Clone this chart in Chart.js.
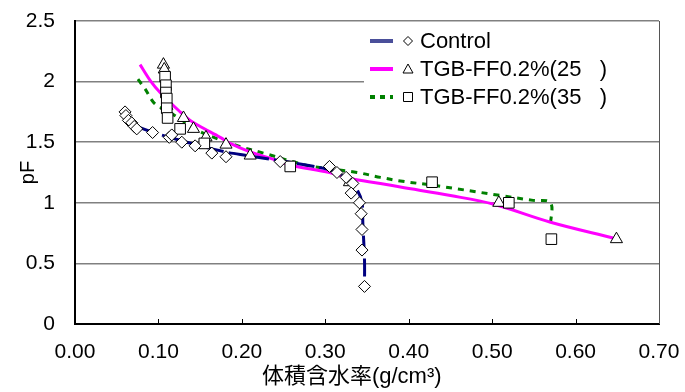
<!DOCTYPE html>
<html>
<head>
<meta charset="utf-8">
<script src="https://cdn.jsdelivr.net/npm/chart.js@4.4.1/dist/chart.umd.min.js"></script>
<style>
  html, body { margin: 0; padding: 0; background: #fff; }
  canvas { display: block; }
</style>
</head>
<body>
<canvas id="myChart" width="685" height="392" style="width:685px;height:392px"></canvas>
<script>
// measured points (x = volumetric water content, y = pF)
const controlX = [0.060, 0.061, 0.064, 0.068, 0.071, 0.074, 0.093, 0.113, 0.116, 0.128, 0.144, 0.164, 0.181, 0.246, 0.305, 0.314, 0.325, 0.333, 0.331, 0.341, 0.343, 0.344, 0.344, 0.347];
const controlY = [1.75, 1.72, 1.68, 1.66, 1.63, 1.61, 1.58, 1.54, 1.56, 1.50, 1.47, 1.41, 1.38, 1.34, 1.30, 1.25, 1.21, 1.16, 1.08, 1.00, 0.91, 0.78, 0.61, 0.31];

const tgb25X = [0.106, 0.107, 0.110, 0.130, 0.142, 0.157, 0.181, 0.210, 0.329, 0.508, 0.649];
const tgb25Y = [2.14, 2.10, 1.80, 1.70, 1.61, 1.54, 1.48, 1.39, 1.17, 1.00, 0.70];

const tgb35X = [0.108, 0.109, 0.109, 0.110, 0.110, 0.111, 0.126, 0.155, 0.258, 0.428, 0.520, 0.571];
const tgb35Y = [2.04, 1.97, 1.91, 1.86, 1.78, 1.70, 1.61, 1.49, 1.30, 1.17, 1.00, 0.70];

// fitted curves
const controlFitX = [0.078, 0.094, 0.134, 0.180, 0.206, 0.243, 0.261, 0.306, 0.326, 0.338, 0.344, 0.345, 0.347, 0.347];
const controlFitY = [1.62, 1.58, 1.50, 1.42, 1.39, 1.35, 1.33, 1.27, 1.20, 1.11, 1.00, 0.83, 0.53, 0.30];

const tgb25FitX = [0.078, 0.090, 0.102, 0.126, 0.138, 0.150, 0.174, 0.186, 0.210, 0.242, 0.258, 0.305, 0.330, 0.366, 0.390, 0.450, 0.501, 0.570, 0.645];
const tgb25FitY = [2.14, 2.01, 1.91, 1.75, 1.68, 1.63, 1.54, 1.49, 1.42, 1.35, 1.31, 1.25, 1.20, 1.16, 1.13, 1.06, 0.99, 0.84, 0.71];

const tgb35FitX = [0.0755, 0.084, 0.094, 0.104, 0.122, 0.146, 0.174, 0.200, 0.226, 0.266, 0.285, 0.338, 0.366, 0.390, 0.434, 0.510, 0.549, 0.570, 0.570];
const tgb35FitY = [2.02, 1.94, 1.83, 1.78, 1.71, 1.60, 1.52, 1.46, 1.41, 1.33, 1.30, 1.25, 1.21, 1.18, 1.14, 1.06, 1.02, 1.00, 0.82];

const seriesNames = ['Control', 'TGB-FF0.2%(25   )', 'TGB-FF0.2%(35   )'];
const xTicks = [0, 0.1, 0.2, 0.3, 0.4, 0.5, 0.6, 0.7];
const yTicks = [0, 0.5, 1, 1.5, 2, 2.5];

const FONT = "'Liberation Sans', Arial, 'Noto Sans CJK JP', sans-serif";
Chart.defaults.font.family = FONT;
Chart.defaults.color = '#000';

function toPoints(xs, ys) {
    return xs.map((x, i) => ({ x: x, y: ys[i] }));
}

// lower order = drawn on top
const styles = [
    { color: '#000080', legendColor: '#4a4f9a', dash: [18, 5], marker: 'rectRot', radius: 6, order: 0 },
    { color: '#ff00ff', legendColor: '#ff00ff', dash: [], marker: 'triangle', radius: 7, order: 1 },
    { color: '#008000', legendColor: '#008000', dash: [6, 6], marker: 'rect', radius: 7.5, order: 0 }
];

function markerSet(label, xs, ys, st) {
    return {
        label: label,
        data: toPoints(xs, ys),
        showLine: false,
        pointStyle: st.marker,
        pointRadius: st.radius,
        pointHoverRadius: st.radius,
        pointBackgroundColor: '#fff',
        pointBorderColor: '#000',
        pointBorderWidth: 1,
        order: st.order
    };
}

function curveSet(label, xs, ys, st) {
    return {
        label: label + ' fit',
        data: toPoints(xs, ys),
        showLine: true,
        pointRadius: 0,
        borderColor: st.color,
        borderWidth: 3,
        borderDash: st.dash,
        tension: 0.35,
        fill: false,
        order: 2
    };
}

// draws inward tick marks, the right border and the legend box
const extras = {
    id: 'extras',
    afterDraw(chart) {
        const ctx = chart.ctx;
        const area = chart.chartArea;
        const xs = chart.scales.x;
        ctx.save();
        ctx.strokeStyle = '#000';
        ctx.lineWidth = 1;
        xTicks.forEach(v => {
            const px = Math.round(xs.getPixelForValue(v)) + 0.5;
            ctx.beginPath();
            ctx.moveTo(px, area.bottom);
            ctx.lineTo(px, area.bottom - 5);
            ctx.stroke();
        });
        ctx.strokeStyle = '#555';
        ctx.beginPath();
        ctx.moveTo(area.right + 0.5, area.top);
        ctx.lineTo(area.right + 0.5, area.bottom);
        ctx.stroke();

        // legend
        ctx.fillStyle = '#fff';
        ctx.fillRect(364, 27, area.right - 364, 84);
        const rows = [41, 69, 97];
        ctx.font = '22px ' + FONT;
        ctx.textBaseline = 'middle';
        ctx.textAlign = 'left';
        rows.forEach((ry, i) => {
            const st = styles[i];
            ctx.strokeStyle = st.legendColor;
            ctx.lineWidth = 4;
            ctx.setLineDash(i === 2 ? [5, 5] : []);
            ctx.beginPath();
            ctx.moveTo(370, ry);
            ctx.lineTo(393, ry);
            ctx.stroke();
            ctx.setLineDash([]);
            ctx.lineWidth = 1;
            ctx.strokeStyle = '#000';
            ctx.fillStyle = '#fff';
            ctx.beginPath();
            const mx = 408;
            if (st.marker === 'rectRot') {
                ctx.moveTo(mx, ry - 4.5);
                ctx.lineTo(mx + 4.5, ry);
                ctx.lineTo(mx, ry + 4.5);
                ctx.lineTo(mx - 4.5, ry);
            } else if (st.marker === 'triangle') {
                ctx.moveTo(mx, ry - 5);
                ctx.lineTo(mx + 5, ry + 4);
                ctx.lineTo(mx - 5, ry + 4);
            } else {
                ctx.rect(mx - 4.5, ry - 4.5, 9, 9);
            }
            ctx.closePath();
            ctx.fill();
            ctx.stroke();
            ctx.fillStyle = '#000';
            ctx.fillText(seriesNames[i], 420, ry + 1);
        });
        ctx.restore();
    }
};

const datasets = [
    markerSet(seriesNames[0], controlX, controlY, styles[0]),
    markerSet(seriesNames[1], tgb25X, tgb25Y, styles[1]),
    markerSet(seriesNames[2], tgb35X, tgb35Y, styles[2]),
    curveSet(seriesNames[0], controlFitX, controlFitY, styles[0]),
    curveSet(seriesNames[1], tgb25FitX, tgb25FitY, styles[1]),
    curveSet(seriesNames[2], tgb35FitX, tgb35FitY, styles[2])
];

new Chart(document.getElementById('myChart'), {
    type: 'scatter',
    data: { datasets: datasets },
    plugins: [extras],
    options: {
        responsive: false,
        animation: false,
        devicePixelRatio: 1,
        layout: { padding: { top: 21, right: 26, left: 0, bottom: 0 } },
        plugins: {
            legend: { display: false },
            tooltip: { enabled: false }
        },
        scales: {
            x: {
                type: 'linear',
                min: 0,
                max: 0.7,
                afterFit: s => {
                    s.height = 68;
                    s.paddingLeft = 0;
                    s.paddingRight = 0;
                },
                afterBuildTicks: s => { s.ticks = xTicks.map(v => ({ value: v })); },
                grid: { display: false, drawTicks: false },
                border: { color: '#000', width: 2 },
                ticks: {
                    padding: 16,
                    font: { size: 21 },
                    callback: v => v.toFixed(2)
                },
                title: {
                    display: true,
                    text: '体積含水率(g/cm³)     ',
                    font: { size: 22 },
                    padding: { top: 0, bottom: 2 }
                }
            },
            y: {
                type: 'linear',
                min: 0,
                max: 2.5,
                afterFit: s => {
                    s.width = 75;
                    s.paddingTop = 0;
                    s.paddingBottom = 0;
                },
                afterBuildTicks: s => { s.ticks = yTicks.map(v => ({ value: v })); },
                grid: { color: '#808080', lineWidth: 1.5, drawTicks: false },
                border: { color: '#000', width: 2 },
                ticks: {
                    padding: 20,
                    font: { size: 21 },
                    callback: v => String(v)
                },
                title: {
                    display: true,
                    text: 'pF',
                    font: { size: 20 },
                    padding: { top: 16, bottom: 0 }
                }
            }
        }
    }
});
</script>
</body>
</html>
